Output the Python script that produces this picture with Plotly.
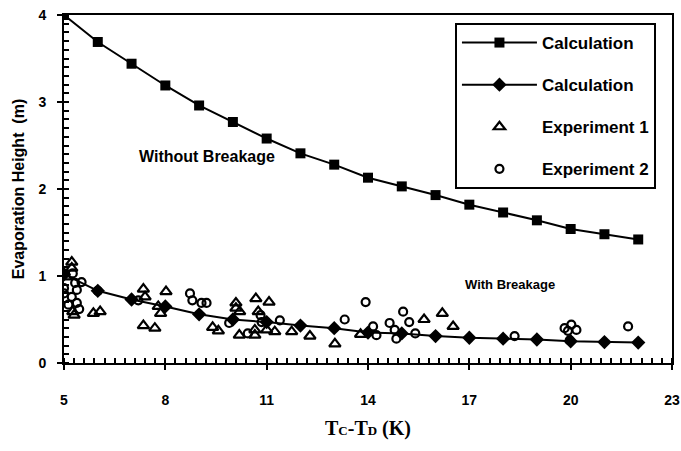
import plotly.graph_objects as go

# Calculated evaporation height, without breakage (squares)
calc_x = [5, 6, 7, 8, 9, 10, 11, 12, 13, 14, 15, 16, 17, 18, 19, 20, 21, 22]
calc_no_break = [4.00, 3.69, 3.44, 3.19, 2.96, 2.77, 2.58, 2.41, 2.28, 2.13,
                 2.03, 1.93, 1.82, 1.73, 1.64, 1.54, 1.48, 1.42]
# Calculated evaporation height, with breakage (diamonds)
calc_break = [1.02, 0.83, 0.73, 0.65, 0.56, 0.50, 0.47, 0.43, 0.40, 0.35,
              0.34, 0.31, 0.29, 0.28, 0.27, 0.25, 0.24, 0.235]

# Experiment 1 (triangles)
exp1_x = [5.06, 5.23, 5.23, 5.26, 5.30, 5.87, 6.07, 7.35, 7.40, 7.35, 7.69,
          8.02, 7.79, 7.86, 9.40, 9.57, 10.09, 10.09, 10.19, 10.20, 10.68,
          11.07, 10.75, 10.65, 10.65, 11.00, 11.24, 11.74, 12.28, 13.02,
          13.78, 15.66, 16.20, 16.52]
exp1_y = [0.99, 1.16, 1.09, 0.59, 0.55, 0.57, 0.59, 0.85, 0.76, 0.43, 0.40,
          0.82, 0.65, 0.57, 0.41, 0.37, 0.69, 0.63, 0.32, 0.59, 0.74,
          0.70, 0.59, 0.32, 0.38, 0.38, 0.36, 0.36, 0.31, 0.22,
          0.33, 0.50, 0.57, 0.42]

# Experiment 2 (circles)
exp2_x = [5.00, 5.00, 5.26, 5.33, 5.38, 5.38, 5.13, 5.45, 5.23, 5.52, 6.00,
          7.20, 8.73, 8.80, 9.07, 9.22, 9.89, 10.44, 10.82, 10.85, 11.39,
          13.31, 13.93, 14.15, 14.25, 14.64, 14.79, 14.84, 15.04, 15.22,
          15.40, 18.34, 19.82, 19.92, 19.97, 20.02, 20.17, 21.70]
exp2_y = [0.86, 0.80, 1.03, 0.92, 0.84, 0.69, 0.67, 0.62, 0.76, 0.93, 0.83,
          0.72, 0.80, 0.72, 0.69, 0.69, 0.46, 0.34, 0.55, 0.47, 0.49,
          0.50, 0.70, 0.42, 0.32, 0.46, 0.38, 0.28, 0.59, 0.47,
          0.34, 0.31, 0.40, 0.37, 0.26, 0.44, 0.38, 0.42]

X_RANGE = [5, 23]
Y_RANGE = [0, 4]
FONT = "Liberation Sans"

fig = go.Figure()

fig.add_trace(go.Scatter(
    x=calc_x, y=calc_no_break, mode="lines+markers", name="Calculation",
    legendgroup="a",
    line=dict(color="black", width=2),
    marker=dict(symbol="square", size=10, color="black")))
fig.add_trace(go.Scatter(
    x=calc_x, y=calc_break, mode="lines+markers", name="Calculation",
    legendgroup="b",
    line=dict(color="black", width=2),
    marker=dict(symbol="diamond", size=11, color="black")))
fig.add_trace(go.Scatter(
    x=exp1_x, y=exp1_y, mode="markers", name="Experiment 1",
    legendgroup="c",
    marker=dict(symbol="triangle-up-open", size=10, color="black",
                line=dict(width=2.2, color="black"))))
fig.add_trace(go.Scatter(
    x=exp2_x, y=exp2_y, mode="markers", name="Experiment 2",
    legendgroup="d",
    marker=dict(symbol="circle-open", size=8, color="black",
                line=dict(width=2.2, color="black"))))

fig.add_annotation(x=9.23, y=2.37, text="Without Breakage",
                   showarrow=False,
                   font=dict(family=FONT, size=16, color="black", weight="bold"))
fig.add_annotation(x=18.2, y=0.90, text="With Breakage",
                   showarrow=False,
                   font=dict(family=FONT, size=13, color="black", weight="bold"))

fig.update_layout(
    width=681, height=451,
    margin=dict(l=64, r=9, t=15, b=88),
    paper_bgcolor="white", plot_bgcolor="white",
    font=dict(family=FONT, color="black"),
    legend=dict(
        x=0.643, y=0.977, xanchor="left", yanchor="top",
        bgcolor="white", bordercolor="black", borderwidth=2,
        font=dict(family=FONT, size=17, color="black", weight="bold"),
        tracegroupgap=17, itemwidth=75,
    ),
    xaxis=dict(
        range=X_RANGE, tickmode="linear", tick0=5, dtick=3,
        automargin=False,
        showgrid=False, zeroline=False,
        showline=True, linecolor="black", linewidth=2, mirror=True,
        ticks="outside", ticklen=5, tickwidth=2, tickcolor="black",
        # an empty first line drops the numbers further below the axis
        tickprefix="<br>",
        tickfont=dict(family=FONT, size=14, color="black", weight="bold"),
        minor=dict(tick0=5, dtick=0.3, ticks="inside", ticklen=5,
                   tickwidth=1.5, tickcolor="black"),
        title=dict(
            text="T<span style='font-size:13px'>C</span>-T<span style='font-size:13px'>D</span> (K)",
            font=dict(family="Liberation Serif", size=20, color="black", weight="bold"),
            standoff=14),
    ),
    yaxis=dict(
        range=Y_RANGE, tickmode="linear", tick0=0, dtick=1,
        automargin=False,
        showgrid=False, zeroline=False,
        showline=True, linecolor="black", linewidth=2, mirror=True,
        ticks="outside", ticklen=5, tickwidth=2, tickcolor="black",
        # trailing non-breaking spaces move the numbers away from the axis
        ticksuffix="\u00a0\u00a0",
        tickfont=dict(family=FONT, size=14, color="black", weight="bold"),
        minor=dict(tick0=0, dtick=0.1, ticks="inside", ticklen=5,
                   tickwidth=1.5, tickcolor="black"),
        title=dict(text="Evaporation Height  (m)",
                   font=dict(family=FONT, size=16, color="black", weight="bold"),
                   standoff=10),
    ),
)

fig.write_html("out.html")
